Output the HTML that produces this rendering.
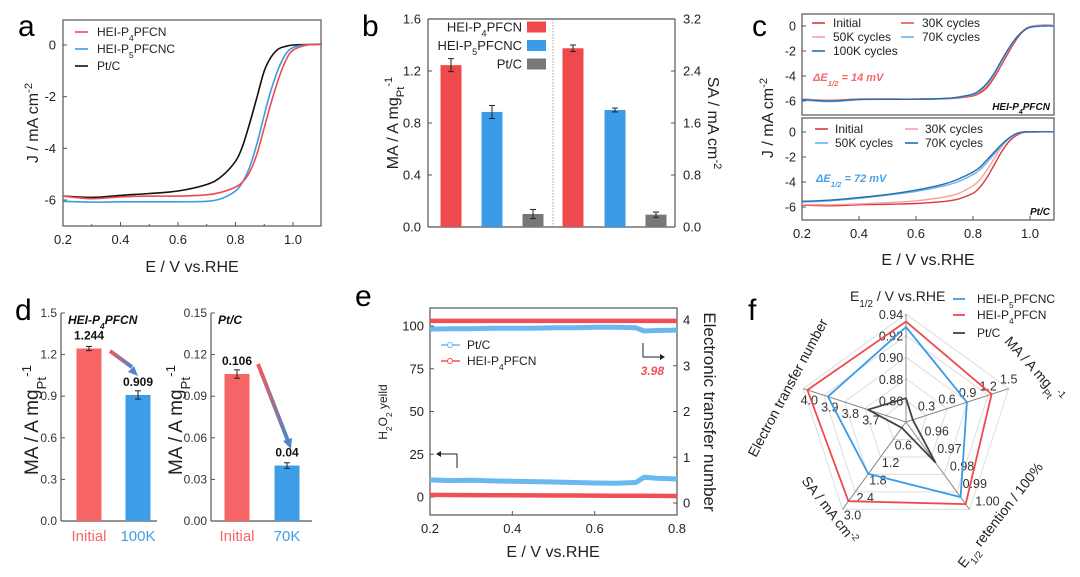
<!DOCTYPE html>
<html><head><meta charset="utf-8"><style>
html,body{margin:0;padding:0;background:#fff;}
svg{display:block;font-family:"Liberation Sans",Arial,sans-serif;}
</style></head><body>
<svg id="fig" width="1080" height="577" viewBox="0 0 1080 577" xmlns="http://www.w3.org/2000/svg">
<defs>
<linearGradient id="gArrow" x1="0" y1="0" x2="1" y2="1"><stop offset="0" stop-color="#f05a5a"/><stop offset="1" stop-color="#4f86c6"/></linearGradient>
</defs>
<g id="root"></g>
</svg>
<script>
// ---------- Panel a data ----------
const aE = [0.2,0.3,0.4,0.5,0.6,0.7,0.75,0.8,0.825,0.85,0.875,0.9,0.925,0.95,0.975,1.0,1.05,1.1];
const aPtC = [-5.85,-5.9,-5.82,-5.75,-5.65,-5.4,-5.1,-4.5,-3.9,-3.0,-2.0,-1.0,-0.45,-0.15,-0.05,0,0.02,0.03];
const aP4 = [-5.85,-5.95,-5.88,-5.85,-5.85,-5.8,-5.7,-5.5,-5.3,-4.9,-4.2,-3.2,-2.2,-1.3,-0.6,-0.2,0,0.03];
const aP5 = [-6.05,-6.08,-6.07,-6.07,-6.07,-6.05,-5.95,-5.65,-5.3,-4.7,-3.8,-2.7,-1.7,-0.9,-0.35,-0.1,0.02,0.03];
// ---------- Panel b data ----------
const bMA = [1.245,0.885,0.10];
const bMAerr = [0.05,0.05,0.035];
const bSA = [2.75,1.80,0.19];
const bSAerr = [0.05,0.03,0.04];
const bNames = ["HEI-P4PFCN","HEI-P5PFCNC","Pt/C"];
// ---------- Panel c data ----------
const cE = [0.2,0.3,0.4,0.5,0.6,0.7,0.75,0.8,0.825,0.85,0.875,0.9,0.925,0.95,0.975,1.0,1.05,1.1];
const cTopInit = [-5.85,-5.95,-5.85,-5.85,-5.85,-5.82,-5.75,-5.6,-5.35,-4.9,-4.1,-3.1,-2.1,-1.15,-0.45,-0.1,0.05,0.05];
const cTop30 = [-5.85,-5.95,-5.85,-5.85,-5.85,-5.8,-5.72,-5.55,-5.25,-4.75,-3.95,-2.95,-1.95,-1.05,-0.4,-0.05,0.08,0.06];
const cTop50 = [-5.85,-5.98,-5.86,-5.86,-5.86,-5.8,-5.7,-5.5,-5.2,-4.7,-3.9,-2.9,-1.9,-1.0,-0.38,-0.05,0.08,0.06];
const cTop70 = [-5.9,-6.05,-5.88,-5.86,-5.86,-5.8,-5.7,-5.48,-5.15,-4.6,-3.8,-2.8,-1.85,-1.0,-0.4,-0.08,0.02,0.0];
const cTop100 = [-5.88,-6.0,-5.88,-5.86,-5.86,-5.8,-5.68,-5.45,-5.1,-4.55,-3.75,-2.75,-1.8,-0.98,-0.42,-0.1,0.0,0.0];
const cBotInit = [-5.85,-5.9,-5.82,-5.78,-5.72,-5.55,-5.35,-4.9,-4.4,-3.6,-2.6,-1.6,-0.8,-0.3,-0.05,0,0.02,0.02];
const cBot30 = [-5.8,-5.82,-5.75,-5.65,-5.5,-5.2,-4.9,-4.3,-3.8,-3.0,-2.1,-1.2,-0.55,-0.2,-0.03,0.01,0.02,0.02];
const cBot50 = [-5.6,-5.5,-5.3,-5.05,-4.75,-4.3,-3.95,-3.4,-3.0,-2.4,-1.75,-1.1,-0.55,-0.18,-0.02,0.02,0.02,0.02];
const cBot70 = [-5.55,-5.45,-5.25,-5.0,-4.65,-4.15,-3.75,-3.2,-2.8,-2.2,-1.6,-1.0,-0.5,-0.15,0,0.02,0.02,0.02];
// ---------- Panel d data ----------
const dP4 = [1.244,0.909];
const dP4err = [0.015,0.03];
const dPt = [0.106,0.04];
const dPterr = [0.003,0.002];
const dP4Labels = ["Initial","100K"];
const dPtLabels = ["Initial","70K"];
// ---------- Panel e data ----------
const eE = [0.2,0.25,0.3,0.35,0.4,0.45,0.5,0.55,0.6,0.65,0.7,0.72,0.75,0.8];
const ePtH2O2 = [10,9.6,9.8,9.4,9.2,9.0,8.8,8.5,8.2,8.0,8.5,11.5,11.0,10.5];
const ePtN = [3.8,3.81,3.81,3.82,3.82,3.82,3.83,3.83,3.84,3.84,3.83,3.76,3.77,3.78];
const eP4H2O2 = [1.2,1.15,1.1,1.05,1.0,0.95,0.9,0.85,0.8,0.75,0.7,0.7,0.65,0.6];
const eP4N = [3.98,3.98,3.98,3.98,3.98,3.98,3.98,3.98,3.98,3.98,3.98,3.98,3.98,3.98];
// ---------- Panel f data ----------
const fAxes = ["E1/2","MA","retention","SA","n"];
const fP5 = [0.928,0.89,0.993,1.78,3.88];
const fP4 = [0.933,1.25,0.997,2.72,3.98];
const fPt = [0.862,0.1,0.973,0.2,3.685];
const fMin = [0.84,0,0.95,0,3.5];
const fMax = [0.94,1.5,1.00,3.0,4.0];

const NS="http://www.w3.org/2000/svg";
const root=document.getElementById('root');
function mk(tag,attrs,parent){const el=document.createElementNS(NS,tag);for(const k in attrs)el.setAttribute(k,attrs[k]);(parent||root).appendChild(el);return el;}
function line(x1,y1,x2,y2,st,w,name,p){const el=mk('line',{x1,y1,x2,y2,stroke:st,'stroke-width':w},p);


return el;}
function text(x,y,s,size,anchor,name,extra,p){const el=mk('text',Object.assign({x,y,'font-size':size,'text-anchor':anchor||'start',fill:'#222'},extra||{}),p);el.innerHTML=s;


return el;}
function rect(x,y,w,h,fill,name,extra,p){const el=mk('rect',Object.assign({x,y,width:w,height:h,fill},extra||{}),p);


return el;}
function poly(pts,st,w,name,p){const el=mk('polyline',{points:pts.map(q=>q[0].toFixed(1)+','+q[1].toFixed(1)).join(' '),fill:'none',stroke:st,'stroke-width':w,'stroke-linejoin':'round'},p);


return el;}
function smooth(pts,st,w,name,p){let d='M'+pts[0][0].toFixed(1)+','+pts[0][1].toFixed(1);
for(let i=0;i<pts.length-1;i++){const p0=pts[Math.max(0,i-1)],p1=pts[i],p2=pts[i+1],p3=pts[Math.min(pts.length-1,i+2)];
const c1=[p1[0]+(p2[0]-p0[0])/6,p1[1]+(p2[1]-p0[1])/6],c2=[p2[0]-(p3[0]-p1[0])/6,p2[1]-(p3[1]-p1[1])/6];
d+=' C'+c1[0].toFixed(1)+','+c1[1].toFixed(1)+' '+c2[0].toFixed(1)+','+c2[1].toFixed(1)+' '+p2[0].toFixed(1)+','+p2[1].toFixed(1);}
const el=mk('path',{d,fill:'none',stroke:st,'stroke-width':w,'stroke-linejoin':'round'},p);


return el;}
function lin(d0,d1,r0,r1){return v=>r0+(v-d0)/(d1-d0)*(r1-r0);}
const AX='#555';
const sub=(s)=>'<tspan baseline-shift="sub" font-size="70%">'+s+'</tspan>';
const sup=(s)=>'<tspan baseline-shift="super" font-size="70%">'+s+'</tspan>';
const RED='#f0494d', BLUE='#3b9be6', BLACK='#111';

// ===== Panel a =====
(function(){
const x=lin(0.2,1.0,63,293), y=lin(0,-6,45,200);
text(18,36,'a',30,'start','panel-a-label',{fill:'#000'});
rect(63,20,258,206,'none','panel-a-frame',{stroke:AX,'stroke-width':1.2});
[0.2,0.4,0.6,0.8,1.0].forEach(v=>{line(x(v),226,x(v),222,AX,1,'a-x-tick');text(x(v),244,v.toFixed(1),13,'middle','a-x-tick-label');});
[0.3,0.5,0.7,0.9].forEach(v=>line(x(v),226,x(v),224,AX,1,'a-x-minor-tick'));
[0,-2,-4,-6].forEach(v=>{line(63,y(v),67,y(v),AX,1,'a-y-tick');text(56,y(v)+4.5,v==0?'0':v,13,'end','a-y-tick-label');});
text(192,272,'E / V vs.RHE',16,'middle','a-x-axis-title');
text(0,0,'J / mA cm'+sup('-2'),16,'middle','a-y-axis-title',{transform:'translate(38,123) rotate(-90)'});
smooth(aE.map((e,i)=>[x(e),y(aPtC[i])]),BLACK,1.6,'a-line-ptc');
smooth(aE.map((e,i)=>[x(e),y(aP5[i])]),BLUE,1.6,'a-line-hei-p5pfcnc');
smooth(aE.map((e,i)=>[x(e),y(aP4[i])]),RED,1.6,'a-line-hei-p4pfcn');
[['HEI-P'+sub('4')+'PFCN',RED],['HEI-P'+sub('5')+'PFCNC',BLUE],['Pt/C',BLACK]].forEach((l,i)=>{const yy=32+i*17;line(75,yy,88,yy,l[1],1.6,'a-legend-swatch');text(97,yy+4,l[0],12,'start','a-legend-entry');});
})();

// ===== Panel b =====
(function(){
const yL=lin(0,1.6,227,19), yR=lin(0,3.2,227,19);
text(362,36,'b',30,'start','panel-b-label',{fill:'#000'});
line(428,19,675,19,AX,1.2,'b-top-axis');line(428,19,428,227,AX,1.2,'b-left-axis');line(675,19,675,227,AX,1.2,'b-right-axis');line(428,227,675,227,AX,1.2,'b-bottom-axis');
line(553,19,553,227,'#888',0.8,'b-divider',null).setAttribute('stroke-dasharray','1.5,1.5');
[0,0.4,0.8,1.2,1.6].forEach(v=>{line(428,yL(v),432,yL(v),AX,1,'b-left-tick');text(421,yL(v)+4.5,v.toFixed(1),13,'end','b-left-tick-label');});
[0,0.8,1.6,2.4,3.2].forEach(v=>{line(675,yR(v),671,yR(v),AX,1,'b-right-tick');text(683,yR(v)+4.5,v.toFixed(1),13,'start','b-right-tick-label');});
const cols=[RED,BLUE,'#777'];
const cx1=[451,492,533], cx2=[573,615,656];
bMA.forEach((v,i)=>{rect(cx1[i]-10.5,yL(v),21,227-yL(v),cols[i],'b-bar-ma-'+i);
line(cx1[i],yL(v+bMAerr[i]),cx1[i],yL(v-bMAerr[i]),'#222',1,'b-errorbar');line(cx1[i]-3,yL(v+bMAerr[i]),cx1[i]+3,yL(v+bMAerr[i]),'#222',1,'b-errorcap');line(cx1[i]-3,yL(v-bMAerr[i]),cx1[i]+3,yL(v-bMAerr[i]),'#222',1,'b-errorcap');});
bSA.forEach((v,i)=>{rect(cx2[i]-10.5,yR(v),21,227-yR(v),cols[i],'b-bar-sa-'+i);
line(cx2[i],yR(v+bSAerr[i]),cx2[i],yR(v-bSAerr[i]),'#222',1,'b-errorbar');line(cx2[i]-3,yR(v+bSAerr[i]),cx2[i]+3,yR(v+bSAerr[i]),'#222',1,'b-errorcap');line(cx2[i]-3,yR(v-bSAerr[i]),cx2[i]+3,yR(v-bSAerr[i]),'#222',1,'b-errorcap');});
[['HEI-P'+sub('4')+'PFCN',RED],['HEI-P'+sub('5')+'PFCNC',BLUE],['Pt/C','#777']].forEach((l,i)=>{const yy=27+i*18.5;rect(527,yy-5.5,19,11,l[1],'b-legend-swatch');text(522,yy+4.5,l[0],13,'end','b-legend-entry');});
text(0,0,'MA / A mg'+sub('Pt')+sup('-1'),16,'middle','b-left-axis-title',{transform:'translate(398,123) rotate(-90)'});
text(0,0,'SA / mA cm'+sup('-2'),16,'middle','b-right-axis-title',{transform:'translate(708,123) rotate(90)'});
})();

// ===== Panel c =====
(function(){
const x=lin(0.2,1.0,802,1030);
const yT=lin(0,-6,26,101), yB=lin(0,-6,132,207);
text(752,36,'c',30,'start','panel-c-label',{fill:'#000'});
rect(802,14,252,101,'none','c-top-frame',{stroke:AX,'stroke-width':1.2});
rect(802,118,252,102,'none','c-bottom-frame',{stroke:AX,'stroke-width':1.2});
[0,-2,-4,-6].forEach(v=>{line(802,yT(v),806,yT(v),AX,1,'c-top-y-tick');text(796,yT(v)+4.5,v==0?'0':v,12.5,'end','c-top-y-tick-label');
line(802,yB(v),806,yB(v),AX,1,'c-bottom-y-tick');text(796,yB(v)+4.5,v==0?'0':v,12.5,'end','c-bottom-y-tick-label');});
[0.2,0.4,0.6,0.8,1.0].forEach(v=>{line(x(v),220,x(v),216,AX,1,'c-x-tick');text(x(v),238,v.toFixed(1),13,'middle','c-x-tick-label');});
text(928,265,'E / V vs.RHE',16,'middle','c-x-axis-title');
text(0,0,'J / mA cm'+sup('-2'),16,'middle','c-y-axis-title',{transform:'translate(773,118) rotate(-90)'});
const cTopCols=[['#d9383d',cTopInit],['#e65558',cTop30],['#f4a3a3',cTop50],['#63b4ee',cTop70],['#2a6cb0',cTop100]];
cTopCols.forEach((s,k)=>smooth(cE.map((e,i)=>[x(Math.min(e,1.085)),yT(s[1][i])]),s[0],1.4,'c-top-line-'+k));
const cBotCols=[['#d9383d',cBotInit],['#f4a3a3',cBot30],['#63b4ee',cBot50],['#2a6cb0',cBot70]];
cBotCols.forEach((s,k)=>smooth(cE.map((e,i)=>[x(Math.min(e,1.085)),yB(s[1][i])]),s[0],1.4,'c-bottom-line-'+k));
[['Initial','#d9383d',812,23],['30K cycles','#e65558',901,23],['50K cycles','#f4a3a3',812,37],['70K cycles','#63b4ee',901,37],['100K cycles','#2a6cb0',812,51]].forEach(l=>{line(l[2],l[3],l[2]+13,l[3],l[1],1.6,'c-top-legend-swatch');text(l[2]+21,l[3]+4,l[0],12,'start','c-top-legend-entry');});
[['Initial','#d9383d',815,129],['30K cycles','#f4a3a3',905,129],['50K cycles','#63b4ee',815,143],['70K cycles','#2a6cb0',905,143]].forEach(l=>{line(l[2],l[3],l[2]+13,l[3],l[1],1.6,'c-bottom-legend-swatch');text(l[2]+20,l[3]+4,l[0],12,'start','c-bottom-legend-entry');});
text(813,81,'ΔE'+sub('1/2')+' = 14 mV',11,'start','c-delta-e-top',{fill:'#f06a6a','font-weight':'bold','font-style':'italic'});
text(816,182,'ΔE'+sub('1/2')+' = 72 mV',11,'start','c-delta-e-bottom',{fill:'#4aa3e8','font-weight':'bold','font-style':'italic'});
text(1050,110,'HEI-P'+sub('4')+'PFCN',10,'end','c-top-sample-label',{'font-weight':'bold','font-style':'italic',fill:'#111'});
text(1050,215,'Pt/C',10,'end','c-bottom-sample-label',{'font-weight':'bold','font-style':'italic',fill:'#111'});
})();

// ===== Panel d =====
(function(){
text(15,320,'d',30,'start','panel-d-label',{fill:'#000'});
function sub2(x0,x1,max,ticks,dec,vals,errs,labels,cxs,tickx,titlex,title,name){
const y=lin(0,max,521,313);
line(x0,313,x0,521,AX,1.2,name+'-y-axis');line(x0,521,x1,521,AX,1.2,name+'-x-axis');
ticks.forEach(v=>{line(x0,y(v),x0+4,y(v),AX,1,name+'-y-tick');text(tickx,y(v)+4,v.toFixed(dec),12,'end',name+'-y-tick-label',{fill:'#333'});});
const cols=['#f76466','#3d9de6'];
vals.forEach((v,i)=>{rect(cxs[i]-12.5,y(v),25,521-y(v),cols[i],name+'-bar-'+i);
line(cxs[i],y(v+errs[i]),cxs[i],y(v-errs[i]),'#222',1,name+'-errorbar');line(cxs[i]-3,y(v+errs[i]),cxs[i]+3,y(v+errs[i]),'#222',1,name+'-errorcap');line(cxs[i]-3,y(v-errs[i]),cxs[i]+3,y(v-errs[i]),'#222',1,name+'-errorcap');
text(cxs[i],y(v)-9,String(v),12,'middle',name+'-value-label',{'font-weight':'bold',fill:'#111'});
text(cxs[i],541,labels[i],15,'middle',name+'-x-label',{fill:i?'#3d9de6':'#f76466'});});
text(x0+7,324,title,12,'start',name+'-title',{'font-weight':'bold','font-style':'italic',fill:'#111'});
text(0,0,'MA / A mg'+sub('Pt')+sup('-1'),19,'middle',name+'-y-axis-title',{transform:'translate('+titlex+',420) rotate(-90)'});
}
sub2(61,157,1.5,[0,0.3,0.6,0.9,1.2,1.5],1,dP4,dP4err,dP4Labels,[89,138],57,38,'HEI-P'+sub('4')+'PFCN','d-left');
sub2(211,312,0.15,[0,0.03,0.06,0.09,0.12,0.15],2,dPt,dPterr,dPtLabels,[237,287],207,182,'Pt/C','d-right');
line(110,351,132,367,'url(#gArrow)',4,'d-left-arrow');
mk('polygon',{points:'128,372 138,376 134,366',fill:'#4f86c6'});
line(258,364,288,441,'url(#gArrow)',4,'d-right-arrow');
mk('polygon',{points:'283,441 291,449 292,438',fill:'#4f86c6'});
})();

// ===== Panel e =====
(function(){
const x=lin(0.2,0.8,430,677), yL=lin(0,100,497,326), yR=lin(0,4,503,320);
text(355,306,'e',30,'start','panel-e-label',{fill:'#000'});
rect(430,308,247,207,'none','e-frame',{stroke:AX,'stroke-width':1.2});
[0.2,0.4,0.6,0.8].forEach(v=>{line(x(v),515,x(v),511,AX,1,'e-x-tick');text(x(v),533,v.toFixed(1),13,'middle','e-x-tick-label');});
[0,25,50,75,100].forEach(v=>{line(430,yL(v),434,yL(v),AX,1,'e-left-tick');text(424,yL(v)+4.5,v,13,'end','e-left-tick-label');});
[0,1,2,3,4].forEach(v=>{line(677,yR(v),673,yR(v),AX,1,'e-right-tick');text(683,yR(v)+4.5,v,13,'start','e-right-tick-label');});
text(553,557,'E / V vs.RHE',16,'middle','e-x-axis-title');
text(0,0,'H'+sub('2')+'O'+sub('2')+' yeild',12,'middle','e-left-axis-title',{transform:'translate(387,412) rotate(-90)'});
text(0,0,'Electronic transfer number',17,'middle','e-right-axis-title',{transform:'translate(704,412) rotate(90)'});
poly(eE.map((e,i)=>[x(e),yL(ePtH2O2[i])]),'#6ab8f0',5,'e-ptc-h2o2-line');
poly(eE.map((e,i)=>[x(e),yR(ePtN[i])]),'#6ab8f0',5,'e-ptc-n-line');
poly(eE.map((e,i)=>[x(e),yL(eP4H2O2[i])]),'#f05055',4.5,'e-p4-h2o2-line');
poly(eE.map((e,i)=>[x(e),yR(eP4N[i])]),'#f05055',4.5,'e-p4-n-line');
line(441,345,460,345,'#6ab8f0',1.5,'e-legend-swatch-ptc');mk('circle',{cx:450,cy:345,r:2.5,fill:'#fff',stroke:'#6ab8f0'});
text(467,349,'Pt/C',12,'start','e-legend-entry');
line(441,361,460,361,'#f05055',1.5,'e-legend-swatch-p4');mk('circle',{cx:450,cy:361,r:2.5,fill:'#fff',stroke:'#f05055'});
text(467,365,'HEI-P'+sub('4')+'PFCN',12,'start','e-legend-entry');
poly([[643,343],[643,357],[660,357]],'#222',1,'e-right-arrow-line');mk('polygon',{points:'660,354 665,357 660,360',fill:'#222'});
text(664,375,'3.98',12,'end','e-value-label',{fill:'#f05055','font-weight':'bold','font-style':'italic'});
poly([[457,468],[457,454],[441,454]],'#222',1,'e-left-arrow-line');mk('polygon',{points:'441,451 436,454 441,457',fill:'#222'});
})();

// ===== Panel f =====
(function(){
const cx=906, cy=422, R=108;
text(748,320,'f',30,'start','panel-f-label',{fill:'#000'});
const ang=[-90,-18,54,126,198].map(a=>a*Math.PI/180);
const pt=(k,r)=>[cx+r*Math.cos(ang[k]),cy+r*Math.sin(ang[k])];
for(let ring=1;ring<=5;ring++){const el=mk('polygon',{points:ang.map((a,k)=>pt(k,R*ring/5).join(',')).join(' '),fill:'none',stroke:'#ddd','stroke-width':1});

}
ang.forEach((a,k)=>{const p=pt(k,R);line(cx,cy,p[0],p[1],'#888',1,'f-axis-spoke');});
const lbl=[[['0.86','0.88','0.90','0.92','0.94'],[-15,5]],[['0.3','0.6','0.9','1.2','1.5'],[0,-5]],[['0.96','0.97','0.98','0.99','1.00'],[18,-4]],[['0.6','1.2','1.8','2.4','3.0'],[10,10]],[['3.6','3.7','3.8','3.9','4.0'],[6,16]]];
lbl.forEach((L,k)=>L[0].forEach((s,j)=>{if(k==4&&j==0)return;const p=pt(k,R*(j+1)/5);text(p[0]+L[1][0],p[1]+L[1][1],s,12.5,'middle','f-axis-tick-label',{fill:'#333'});}));
const series=[[fPt,'#444'],[fP5,BLUE],[fP4,RED]];
series.forEach((s,si)=>{const el=mk('polygon',{points:s[0].map((v,k)=>pt(k,R*(v-fMin[k])/(fMax[k]-fMin[k])).map(n=>n.toFixed(1)).join(',')).join(' '),fill:'none',stroke:s[1],'stroke-width':1.8,'stroke-linejoin':'round'});

});
text(850,301,'E'+sub('1/2')+' / V vs.RHE',14,'start','f-axis-title-e12');
text(0,0,'MA / A mg'+sub('Pt')+sup('-1'),14,'middle','f-axis-title-ma',{transform:'translate(1031,372) rotate(48)'});
text(0,0,'E'+sub('1/2')+' retention / 100%',14,'middle','f-axis-title-retention',{transform:'translate(1004,518) rotate(-52)'});
text(0,0,'SA / mA cm'+sup('-2'),14,'middle','f-axis-title-sa',{transform:'translate(826,513) rotate(52)'});
text(0,0,'Electron transfer number',14,'middle','f-axis-title-n',{transform:'translate(792,390) rotate(-62)'});
[['HEI-P'+sub('5')+'PFCNC',BLUE,299],['HEI-P'+sub('4')+'PFCN',RED,315],['Pt/C','#444',333]].forEach(l=>{line(953,l[2],965,l[2],l[1],1.8,'f-legend-swatch');text(977,l[2]+4,l[0],12,'start','f-legend-entry');});
})();
</script>
</body></html>
